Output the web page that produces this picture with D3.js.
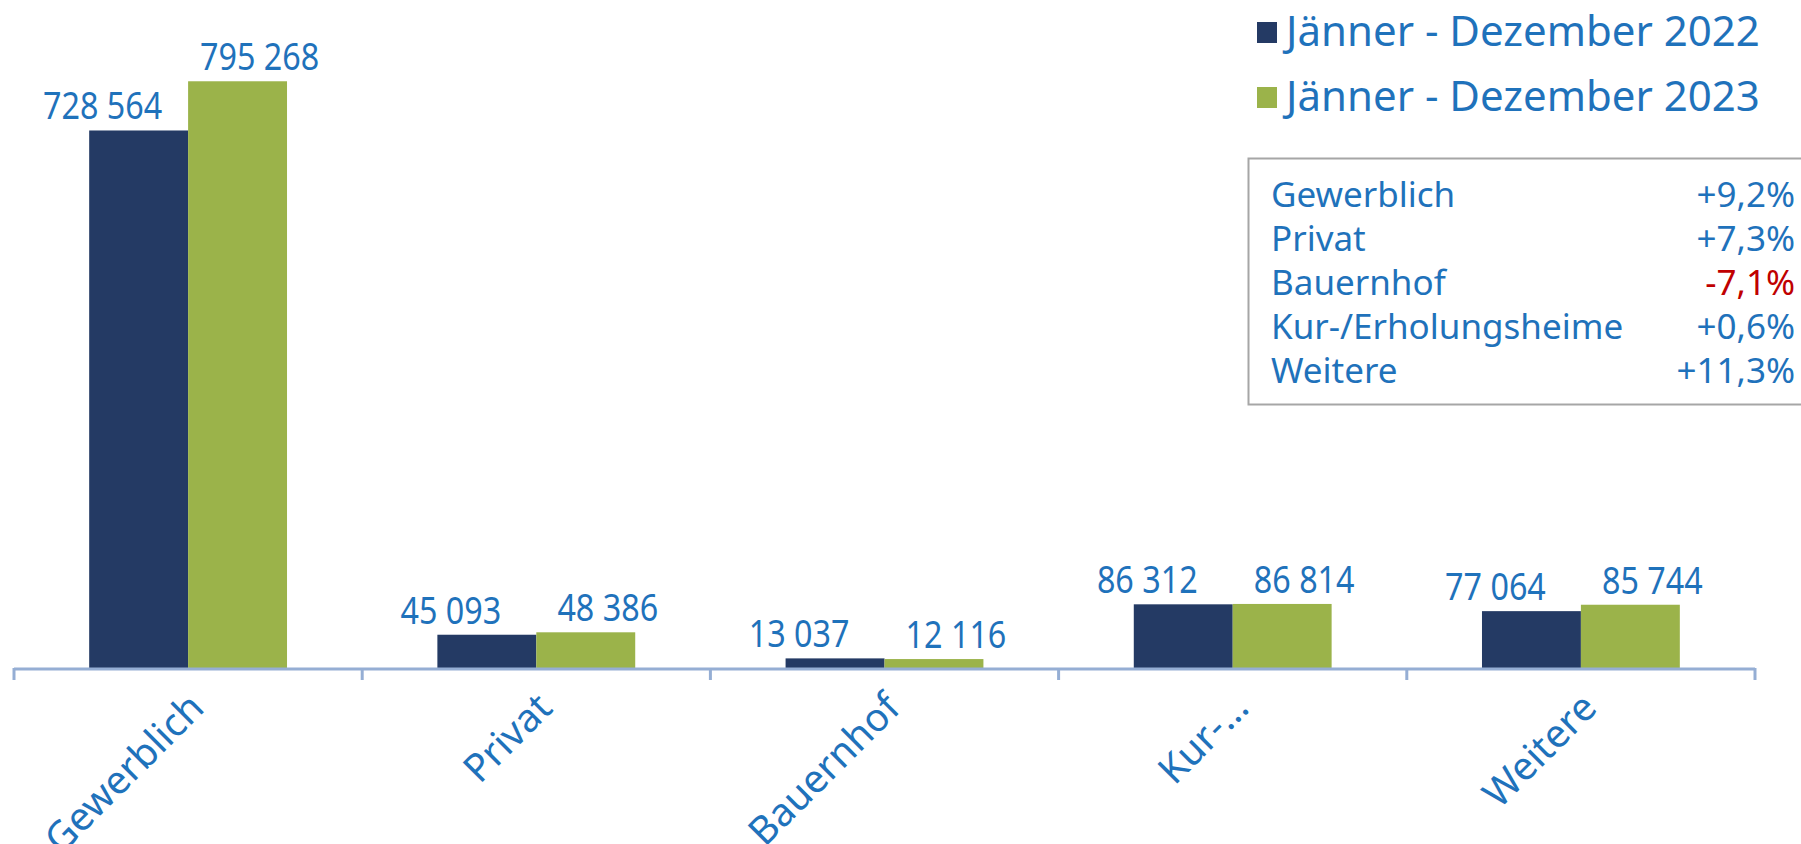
<!DOCTYPE html>
<html lang="de">
  <head>
    <meta charset="UTF-8" />
    <script src="https://d3js.org/d3.v7.min.js"></script>
    <style>
      body { margin: 0; background: #fff; }
      text { font-family: "Noto Sans", sans-serif; fill: #1f72bb; }
    </style>
  </head>
  <body>
    <svg id="chart" width="1801" height="844"></svg>
    <script>
      // data
      var categories = ["Gewerblich", "Privat", "Bauernhof", "Kur-/Erholungsheime", "Weitere"];
      var axisLabels = ["Gewerblich", "Privat", "Bauernhof", "Kur-…", "Weitere"];
      var seriesNames = ["Jänner - Dezember 2022", "Jänner - Dezember 2023"];
      var values2022 = [728564, 45093, 13037, 86312, 77064];
      var values2023 = [795268, 48386, 12116, 86814, 85744];
      var changes = ["+9,2%", "+7,3%", "-7,1%", "+0,6%", "+11,3%"];
      var yTicks = [0, 900000];

      var colors = ["#243a64", "#9bb34a"];
      var fmt = function (v) { return d3.format(",")(v).replace(/,/g, " "); };

      var svg = d3.select("#chart");
      var axisY = 668;

      var x0 = d3.scaleBand().domain(categories).range([14, 1755]).paddingInner(0).paddingOuter(0);
      var x1 = d3.scaleBand().domain(seriesNames).range([0, x0.bandwidth()]).paddingInner(0).paddingOuter(0.76);
      var y = d3.scaleLinear().domain(d3.extent(yTicks)).range([axisY, 4]);

      var rows = categories.map(function (c, i) {
        return { cat: c, vals: [values2022[i], values2023[i]] };
      });

      // bars
      var groups = svg.selectAll("g.cat").data(rows).enter().append("g")
        .attr("class", "cat")
        .attr("transform", function (d) { return "translate(" + x0(d.cat) + ",0)"; });

      groups.selectAll("rect").data(function (d) {
        return d.vals.map(function (v, k) { return { s: seriesNames[k], v: v, k: k }; });
      }).enter().append("rect")
        .attr("x", function (d) { return x1(d.s); })
        .attr("y", function (d) { return y(d.v); })
        .attr("width", x1.bandwidth())
        .attr("height", function (d) { return axisY - y(d.v); })
        .attr("fill", function (d) { return colors[d.k]; });

      // value labels (first series pushed left, second pushed right), narrowed font
      var labelShift = [-36, 22];
      groups.selectAll("text.val").data(function (d) {
        return d.vals.map(function (v, k) { return { s: seriesNames[k], v: v, k: k }; });
      }).enter().append("text")
        .attr("class", "val")
        .attr("transform", function (d) {
          var cx = x1(d.s) + x1.bandwidth() / 2 + labelShift[d.k];
          return "translate(" + cx + "," + (y(d.v) - 11) + ") scale(0.85,1)";
        })
        .attr("text-anchor", "middle")
        .style("font-size", "38px")
        .text(function (d) { return fmt(d.v); });

      // category axis: line + boundary ticks
      var bounds = categories.map(function (c) { return x0(c); }).concat([x0.range()[1]]);
      svg.append("line")
        .attr("x1", x0.range()[0]).attr("x2", x0.range()[1])
        .attr("y1", axisY + 1).attr("y2", axisY + 1)
        .attr("stroke", "#95aed4").attr("stroke-width", 3);
      svg.selectAll("line.tick").data(bounds).enter().append("line")
        .attr("class", "tick")
        .attr("x1", function (d) { return d; }).attr("x2", function (d) { return d; })
        .attr("y1", axisY).attr("y2", axisY + 12)
        .attr("stroke", "#95aed4").attr("stroke-width", 3);

      var xAxis = svg.append("g")
        .attr("transform", "translate(0," + axisY + ")")
        .call(d3.axisBottom(x0).tickSize(0).tickFormat(function (d, i) { return axisLabels[i]; }));
      xAxis.select(".domain").remove();
      xAxis.selectAll("text")
        .attr("fill", "#1f72bb")
        .style("font-family", "'Noto Sans', sans-serif")
        .style("font-size", "39px")
        .attr("text-anchor", "end")
        .attr("x", 0).attr("y", 0).attr("dy", 0)
        .attr("transform", "translate(18,42) rotate(-45)");

      // legend
      var legend = svg.selectAll("g.leg").data(seriesNames).enter().append("g")
        .attr("class", "leg")
        .attr("transform", function (d, i) { return "translate(1257," + (46 + i * 65) + ")"; });
      legend.append("rect")
        .attr("x", 0).attr("y", -24).attr("width", 20).attr("height", 21)
        .attr("fill", function (d, i) { return colors[i]; });
      legend.append("text")
        .attr("x", 29).attr("y", 0)
        .style("font-size", "42px")
        .text(function (d) { return d; });

      // change box
      svg.append("rect")
        .attr("x", 1248.5).attr("y", 158.5).attr("width", 560).attr("height", 246)
        .attr("fill", "none").attr("stroke", "#a6a6a6").attr("stroke-width", 2);
      var boxRows = svg.selectAll("g.chg").data(categories).enter().append("g")
        .attr("class", "chg")
        .attr("transform", function (d, i) { return "translate(0," + (207 + i * 44) + ")"; });
      boxRows.append("text")
        .attr("x", 1271)
        .style("font-size", "35px")
        .text(function (d) { return d; });
      boxRows.append("text")
        .attr("x", 1795)
        .attr("text-anchor", "end")
        .style("font-size", "35px")
        .style("fill", function (d, i) { return changes[i][0] === "-" ? "#c00000" : "#1f72bb"; })
        .text(function (d, i) { return changes[i]; });
    </script>
  </body>
</html>
